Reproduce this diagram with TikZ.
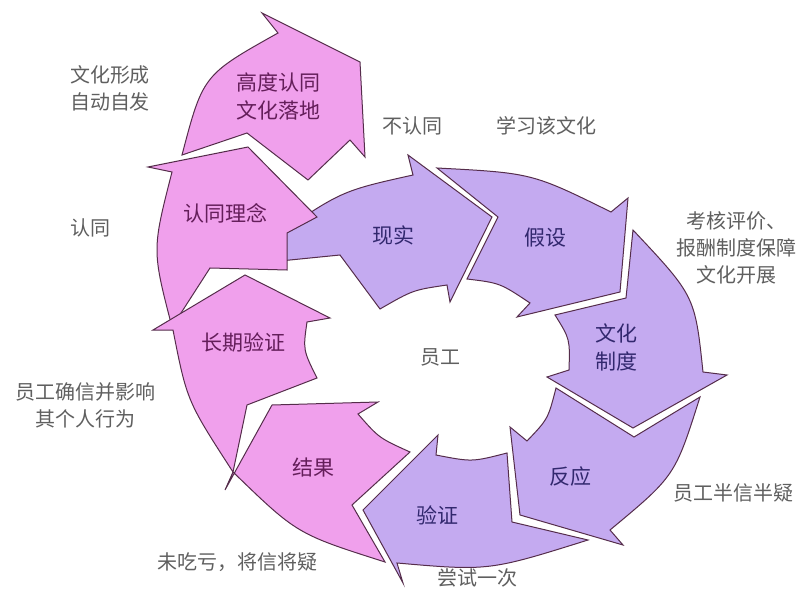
\documentclass[tikz,border=0pt]{standalone}
\usepackage{fontspec}
\setmainfont{Noto Sans CJK SC}
\definecolor{pinkfill}{RGB}{240,160,236}
\definecolor{lilac}{RGB}{196,170,240}
\definecolor{edgeink}{RGB}{85,45,75}
\definecolor{lilacink}{RGB}{50,40,110}
\definecolor{pinkink}{RGB}{100,30,90}
\definecolor{greyink}{RGB}{95,95,95}
\tikzset{
	pinkarrow/.style={draw=edgeink,fill=pinkfill,line width=1pt},
	lilacarrow/.style={draw=edgeink,fill=lilac,line width=1pt},
	inlabel/.style={text=lilacink,font=\fontsize{21}{28}\selectfont,align=center},
	pinklabel/.style={inlabel,text=pinkink},
	outlabel/.style={text=greyink,font=\fontsize{20}{27}\selectfont,align=center}
}
\begin{document}
\begin{tikzpicture}[x=1pt,y=-1pt]
	\useasboundingbox (0,0) rectangle (804,591);
	\draw[lilacarrow] (270,240) .. controls (341,191) .. (413,175) -- (408,155) -- (492,217) -- (450,302) -- (447,285) .. controls (413,290) .. (380,309) -- (340,255) -- (270,262) -- cycle;
	\draw[pinkarrow] (182,155) .. controls (203,75) .. (278,33) -- (262,13) -- (360,62) -- (365,157) -- (350,140) -- (308,180) -- (247,133) -- cycle;
	\draw[pinkarrow] (172,327) .. controls (152,250) .. (172,172) -- (148,167) -- (248,147) -- (317,217) -- (287,233) -- (287,270) -- (210,268) -- cycle;
	\draw[pinkarrow] (233,472) .. controls (187,401) .. (173,330) -- (153,330) -- (245,275) -- (330,318) -- (307,322) .. controls (303,350) .. (317,378) -- (247,405) -- cycle;
	\draw[pinkarrow] (385,562) .. controls (297,534) .. (233,472) -- (225,490) -- (272,405) -- (378,402) -- (358,414) .. controls (379,438) .. (410,452) -- (352,505) -- cycle;
	\draw[lilacarrow] (611,212) .. controls (532,173) .. (437,168) -- (498,217) -- (467,279) .. controls (500,283) .. (530,303) -- (517,317) -- (620,292) -- (628,198) -- cycle;
	\draw[lilacarrow] (633,230) .. controls (695,296) .. (703,372) -- (727,375) -- (633,428) -- (547,377) -- (569,370) .. controls (570,339) .. (555,315) -- (626,298) -- cycle;
	\draw[lilacarrow] (700,397) .. controls (675,476) .. (610,530) -- (623,545) -- (520,515) -- (510,427) -- (527,441) .. controls (548,419) .. (556,388) -- (634,437) -- cycle;
	\draw[lilacarrow] (588,540) .. controls (489,571) .. (397,563) -- (403,583) -- (363,510) -- (438,435) -- (436,455) .. controls (472,462) .. (507,453) -- (512,522) -- cycle;

	\node[inlabel] (xianshi) at (393,235) {现实};
	\node[inlabel] (jiashe) at (545,238) {假设};
	\node[inlabel] (zhidu) at (616,347) {文化\\制度};
	\node[inlabel] (fanying) at (570,477) {反应};
	\node[inlabel] (yanzheng) at (437,515) {验证};
	\node[pinklabel] (jieguo) at (313,468) {结果};
	\node[pinklabel] (changqi) at (243,342) {长期验证};
	\node[pinklabel] (linian) at (225,213) {认同理念};
	\node[pinklabel] (luodi) at (278,96) {高度认同\\文化落地};

	\node[outlabel] (yuangong) at (440,357) {员工};
	\node[outlabel] (zifa) at (110,88) {文化形成\\自动自发};
	\node[outlabel] (rentong) at (90,228) {认同};
	\node[outlabel] (quexin) at (86,405) {员工确信并影响\\其个人行为};
	\node[outlabel] (chikui) at (237,562) {未吃亏，将信将疑};
	\node[outlabel] (changshi) at (477,578) {尝试一次};
	\node[outlabel] (banxin) at (733,493) {员工半信半疑};
	\node[outlabel] (kaohe) at (736,248) {考核评价、\\报酬制度保障\\文化开展};
	\node[outlabel] (burentong) at (412,126) {不认同};
	\node[outlabel] (xuexi) at (546,126) {学习该文化};
\end{tikzpicture}
\end{document}
